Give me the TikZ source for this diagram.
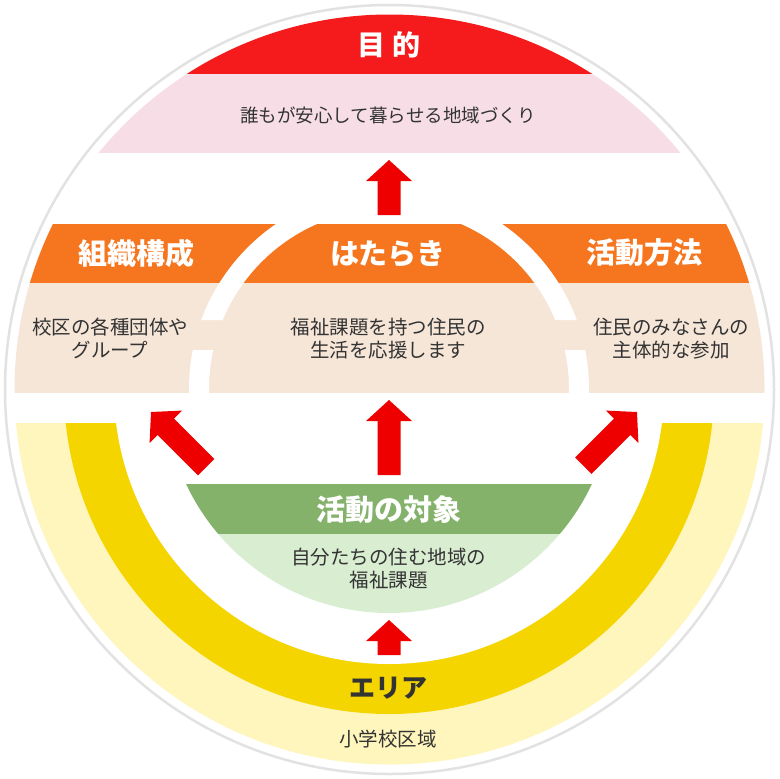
\documentclass[tikz,border=0pt]{standalone}
\usepackage{fontspec}
\setmainfont{Noto Sans CJK JP}
\definecolor{redband}{HTML}{F51A1C}
\definecolor{pinkband}{HTML}{F7DEE6}
\definecolor{orangeband}{HTML}{F5761E}
\definecolor{beigeband}{HTML}{F6E6D8}
\definecolor{greenband}{HTML}{84B26B}
\definecolor{lgreenband}{HTML}{D9EDD1}
\definecolor{dyellow}{HTML}{F5D500}
\definecolor{lyellow}{HTML}{FFF6BE}
\definecolor{arrred}{HTML}{EE0000}
\definecolor{txt}{HTML}{333333}
\definecolor{rim}{HTML}{E2E2E2}
\begin{document}
\begin{tikzpicture}[x=1pt,y=-1pt,
  hd/.style={font=\fontsize{29}{29}\selectfont\bfseries, text=white, inner sep=0pt},
  bd/.style={font=\fontsize{19.5}{23}\selectfont, text=txt, align=center, inner sep=0pt},
  pics/uparr/.style={code={\fill[arrred] (0,0) -- (23,21) -- (11.5,21) -- (11.5,#1) -- (-11.5,#1) -- (-11.5,21) -- (-23,21) -- cycle;}}]
\useasboundingbox (0,0) rectangle (779,779);
\fill[white, draw=rim, line width=2.5pt] (389.5,389.5) circle[radius=384.5pt];
\begin{scope}
  \clip (389.5,389.5) circle[radius=375pt];
  \fill[redband] (0,0) rectangle (779,73.5);
  \fill[pinkband] (0,73.5) rectangle (779,153);
  \fill[orangeband] (0,224) rectangle (779,283);
  \fill[beigeband] (0,283) rectangle (779,393);
  \begin{scope}
    \clip (0,180) rectangle (779,320) (0,350) rectangle (779,393);
    \fill[white, even odd rule] (389,389) circle[radius=200pt] (389,389) circle[radius=180pt];
  \end{scope}
  \fill[lyellow] (0,423) rectangle (779,779);
  \begin{scope}
    \clip (0,423) rectangle (779,779);
    \fill[dyellow] (389,389) circle[radius=325pt];
    \fill[white] (389,389) circle[radius=275pt];
  \end{scope}
  \begin{scope}
    \clip (389,389) circle[radius=224pt];
    \fill[greenband] (0,484) rectangle (779,534);
    \fill[lgreenband] (0,534) rectangle (779,779);
  \end{scope}
\end{scope}
% arrows
\pic at (389,160) {uparr=55};
\pic at (389,400) {uparr=75};
\pic at (389,620) {uparr=35};
\pic[rotate=45] at (151,412) {uparr=78};
\pic[rotate=-45] at (637,412) {uparr=76};
% texts
\node[hd, font=\fontsize{28}{28}\selectfont\bfseries] (mokuteki) at (389,45) {目\hspace{8pt}的};
\node[bd, font=\fontsize{18.5}{22}\selectfont] (mokutekit) at (388,115) {誰もが安心して暮らせる地域づくり};
\node[hd] (soshiki) at (136,253) {組織構成};
\node[hd] (hataraki) at (388,254) {はたらき};
\node[hd] (houhou) at (644,253) {活動方法};
\node[bd] (soshikit) at (110,338.5) {校区の各種団体や\\グループ};
\node[bd] (hatarakit) at (388,338.5) {福祉課題を持つ住民の\\生活を応援します};
\node[bd] (houhout) at (671,338.5) {住民のみなさんの\\主体的な参加};
\node[hd] (taisho) at (388.5,510) {活動の対象};
\node[bd] (taishot) at (388.5,569) {自分たちの住む地域の\\福祉課題};
\node[hd, text=txt, font=\fontsize{26}{26}\selectfont\bfseries] (area) at (388,688) {エリア};
\node[bd] (areat) at (388,739) {小学校区域};
\end{tikzpicture}
\end{document}
